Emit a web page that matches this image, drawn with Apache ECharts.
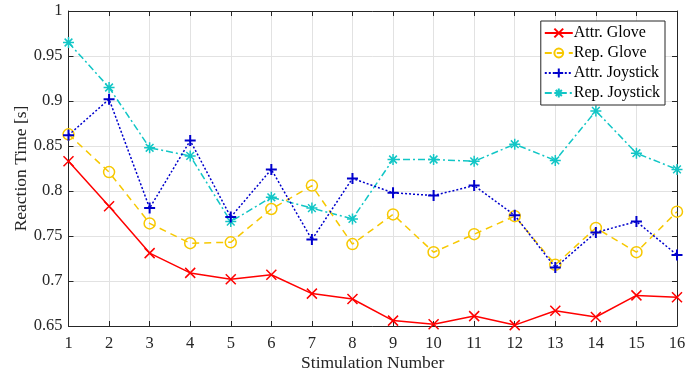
<!DOCTYPE html>
<html>
<head>
<meta charset="utf-8">
<script src="https://cdn.jsdelivr.net/npm/echarts@6/dist/echarts.min.js"></script>
<style>html,body{margin:0;padding:0;background:#fff}#c{width:697px;height:375px}</style>
</head>
<body>
<div id="c"></div>
<script>
var stimulation = [1,2,3,4,5,6,7,8,9,10,11,12,13,14,15,16];
var attrGlove = [0.833,0.783,0.731,0.709,0.702,0.707,0.686,0.680,0.656,0.652,0.661,0.651,0.667,0.660,0.684,0.682];
var repGlove = [0.863,0.821,0.764,0.742,0.743,0.780,0.806,0.741,0.774,0.732,0.752,0.772,0.718,0.759,0.732,0.777];
var attrJoystick = [0.862,0.902,0.781,0.856,0.771,0.824,0.746,0.814,0.798,0.795,0.806,0.773,0.715,0.754,0.766,0.729];
var repJoystick = [0.965,0.915,0.848,0.839,0.766,0.793,0.781,0.769,0.835,0.835,0.833,0.852,0.834,0.889,0.842,0.824];
var seriesNames = ['Attr. Glove','Rep. Glove','Attr. Joystick','Rep. Joystick'];
var yTicks = [0.65,0.7,0.75,0.8,0.85,0.9,0.95,1];

function pairs(v){ return stimulation.map(function(x,i){ return [x, v[i]]; }); }

var FONT = '"Liberation Serif", "Times New Roman", serif';
var TXT = '#262626';
var crossPath = 'path://M0,0L10,10M0,10L10,0';
var plusPath = 'path://M5,0L5,10M0,5L10,5';
var starPath = 'path://M5,0L5,10M0,5L10,5M1.5,1.5L8.5,8.5M1.5,8.5L8.5,1.5';

var chart = echarts.init(document.getElementById('c'), null, {renderer:'canvas'});
var axisCommon = {
  type:'value',
  axisLine:{show:true, onZero:false, lineStyle:{color:TXT, width:1}},
  axisTick:{show:true, inside:true, length:5, lineStyle:{color:TXT}},
};
chart.setOption({
  animation:false,
  backgroundColor:'#fff',
  grid:{left:68.5, right:20, top:11, bottom:49, containLabel:false, outerBoundsMode:'none'},
  legend:{
    right:32, top:21, orient:'vertical',
    data:seriesNames,
    backgroundColor:'#fff', borderColor:TXT, borderWidth:1,
    padding:[3,5,3,3], itemGap:2, itemWidth:28, itemHeight:11,
    textStyle:{fontFamily:FONT, fontSize:16, color:'#000', padding:[0,0,0,-4], lineHeight:18}
  },
  xAxis:[
    Object.assign({}, axisCommon, {
      min:1, max:16, interval:1, position:'bottom',
      name:'Stimulation Number', nameLocation:'middle', nameGap:28, nameMoveOverlap:false,
      nameTextStyle:{fontFamily:FONT, fontSize:17.5, color:TXT},
      axisLabel:{fontFamily:FONT, fontSize:16.5, color:TXT, margin:9},
      splitLine:{show:true, lineStyle:{color:'#e2e2e2', width:1}}
    }),
    Object.assign({}, axisCommon, {
      min:1, max:16, interval:1, position:'top',
      axisLabel:{show:false}, splitLine:{show:false}
    })
  ],
  yAxis:[
    Object.assign({}, axisCommon, {
      min:yTicks[0], max:yTicks[yTicks.length-1], interval:0.05, position:'left',
      name:'Reaction Time [s]', nameLocation:'middle', nameGap:38, nameMoveOverlap:false,
      nameTextStyle:{fontFamily:FONT, fontSize:17.5, color:TXT},
      axisLabel:{fontFamily:FONT, fontSize:16.5, color:TXT, margin:6,
        formatter:function(v){ return String(Math.round(v*100)/100); }},
      splitLine:{show:true, lineStyle:{color:'#e2e2e2', width:1}}
    }),
    Object.assign({}, axisCommon, {
      min:yTicks[0], max:yTicks[yTicks.length-1], interval:0.05, position:'right',
      axisLabel:{show:false}, splitLine:{show:false}
    })
  ],
  series:[
    {name:seriesNames[0], type:'line', data:pairs(attrGlove), symbol:crossPath, symbolSize:10,
     lineStyle:{color:'#ff0000', width:1.5, type:'solid'},
     itemStyle:{color:'none', borderColor:'#ff0000', borderWidth:1.5}, z:5},
    {name:seriesNames[1], type:'line', data:pairs(repGlove), symbol:'circle', symbolSize:11,
     lineStyle:{color:'#f7c800', width:1.5, type:[7,5]},
     itemStyle:{color:'none', borderColor:'#f7c800', borderWidth:1.5}, z:4},
    {name:seriesNames[2], type:'line', data:pairs(attrJoystick), symbol:plusPath, symbolSize:11,
     lineStyle:{color:'#0000cc', width:1.5, type:[2,2]},
     itemStyle:{color:'none', borderColor:'#0000cc', borderWidth:2}, z:6},
    {name:seriesNames[3], type:'line', data:pairs(repJoystick), symbol:starPath, symbolSize:11,
     lineStyle:{color:'#12c6c6', width:1.5, type:[7,3,2,3]},
     itemStyle:{color:'none', borderColor:'#12c6c6', borderWidth:1.5}, z:3}
  ]
});
</script>
</body>
</html>
